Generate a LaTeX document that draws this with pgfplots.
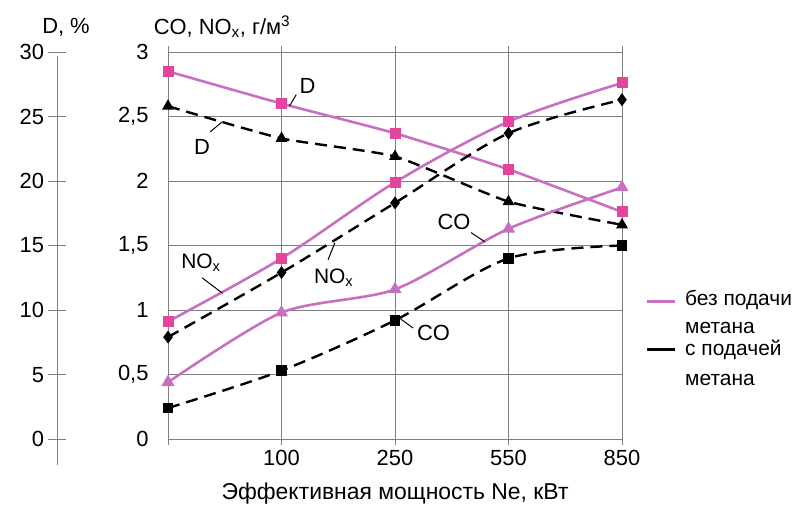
\documentclass[border=0pt]{standalone}
\usepackage{pgfplots}
\pgfplotsset{compat=1.18}
\usepackage{fontspec}
\setmainfont{Liberation Sans}
\definecolor{pinkline}{HTML}{C870C0}
\definecolor{pinkmark}{HTML}{E4449C}
\definecolor{gridc}{HTML}{808080}
\newcommand{\fs}[1]{\fontsize{#1}{#1}\selectfont}
\begin{document}
\begin{tikzpicture}[x=1bp,y=1bp]
\useasboundingbox (0,0) rectangle (796,508);
% left D axis: ticks span the whole narrow box
\begin{axis}[at={(47.5bp,56bp)}, anchor=south west, scale only axis,
  width=19bp, height=409bp, xmin=0, xmax=1, ymin=-1, ymax=30.7,
  axis line style={white}, xtick=\empty,
  ytick={0,5,...,30}, tick align=inside, major tick length=19bp,
  ytick style={gridc, line width=1pt},
  yticklabel style={font=\fs{22}, xshift=0bp},
  /pgf/number format/assume math mode=true]
\addplot[draw=none] coordinates {(0,0)};
\end{axis}
\draw[gridc, line width=1pt] (57,43) -- (57,452);
% main axis
\begin{axis}[at={(168bp,69bp)}, anchor=south west, scale only axis,
  width=454bp, height=387bp, xmin=0, xmax=4, ymin=0, ymax=3,
  xtick={0,1,2,3,4}, xticklabels={,100,250,550,850},
  ytick={0,0.5,...,3},
  grid=major, grid style={gridc, line width=0.8pt},
  axis line style={gridc, line width=0.8pt},
  xtick style={gridc, line width=0.8pt}, ytick style={draw=none},
  tick align=outside, major tick length=6bp,
  /pgf/number format/use comma,
  /pgf/number format/assume math mode=true,
  ticklabel style={font=\fs{22}},
  yticklabel style={xshift=-10bp},
  xticklabel style={yshift=-2bp},
  xlabel={Эффективная мощность Ne, кВт},
  xlabel style={font=\fs{23}, at={(axis description cs:0.5,-0.14)}, anchor=center},
  clip=false]
% D without methane (values in %)
\addplot[pinkline, line width=2.6bp, smooth, tension=0.3, mark=square*,
  mark options={pinkmark, draw=pinkmark, solid}, mark size=4.2bp,
  y filter/.expression={y/10}]
  coordinates {(0,28.5) (1,26.0) (2,23.7) (3,20.9) (4,17.6)};
% D with methane (values in %)
\addplot[black, line width=2.4bp, dash pattern=on 12bp off 7bp, smooth, tension=0.3,
  mark=triangle*, mark options={black, solid}, mark size=4.5bp,
  y filter/.expression={y/10}]
  coordinates {(0,25.8) (1,23.3) (2,21.9) (3,18.4) (4,16.6)};
% NOx without methane
\addplot[pinkline, line width=2.6bp, smooth, tension=0.5, mark=square*,
  mark options={pinkmark, draw=pinkmark, solid}, mark size=4.2bp]
  coordinates {(0,0.91) (1,1.40) (2,1.99) (3,2.46) (4,2.76)};
% NOx with methane
\addplot[black, line width=2.4bp, dash pattern=on 12bp off 7bp, smooth, tension=0.5,
  mark=diamond*, mark options={black, solid}, mark size=4.5bp]
  coordinates {(0,0.79) (1,1.29) (2,1.83) (3,2.37) (4,2.63)};
% CO without methane
\addplot[pinkline, line width=2.6bp, smooth, tension=0.45, mark=triangle*,
  mark options={pinkline, solid}, mark size=5bp]
  coordinates {(0,0.44) (1,0.98) (2,1.16) (3,1.63) (4,1.95)};
% CO with methane
\addplot[black, line width=2.4bp, dash pattern=on 12bp off 7bp, smooth, tension=0.5,
  mark=square*, mark options={black, solid}, mark size=4.2bp]
  coordinates {(0,0.24) (1,0.53) (2,0.92) (3,1.40) (4,1.50)};
% annotations
\node[font=\fs{22}] at (axis cs:1.23,2.74) {D};
\draw[black, line width=1pt] (axis cs:1.07,2.58) -- (axis cs:1.13,2.67);
\node[font=\fs{22}] at (axis cs:0.30,2.265) {D};
\draw[black, line width=1pt] (axis cs:0.37,2.38) -- (axis cs:0.48,2.46);
\node[font=\fs{21}] at (axis cs:0.29,1.37) {NO\textsubscript{x}};
\draw[black, line width=1pt] (axis cs:0.30,1.25) -- (axis cs:0.48,1.13);
\node[font=\fs{21}] at (axis cs:1.46,1.25) {NO\textsubscript{x}};
\draw[black, line width=1pt] (axis cs:1.41,1.39) -- (axis cs:1.47,1.52);
\node[font=\fs{22}] at (axis cs:2.52,1.68) {CO};
\draw[black, line width=1pt] (axis cs:2.67,1.60) -- (axis cs:2.79,1.53);
\node[font=\fs{22}] at (axis cs:2.34,0.82) {CO};
\draw[black, line width=1pt] (axis cs:2.05,0.93) -- (axis cs:2.16,0.86);
% y title
\node[font=\fs{22}] at (axis description cs:0.119,1.065) {CO, NO\textsubscript{x}, г/м\textsuperscript{3}};
\end{axis}
% D title
\node[font=\fs{22}] at (66,481) {D, \%};
% legend
\draw[pinkline, line width=3bp] (647,206) -- (675,206);
\draw[black, line width=3bp] (647,158) -- (675,158);
\node[font=\fs{21}, anchor=west, inner sep=0pt] at (685,208) {без подачи};
\node[font=\fs{21}, anchor=west, inner sep=0pt] at (685,180) {метана};
\node[font=\fs{21}, anchor=west, inner sep=0pt] at (685,158) {с подачей};
\node[font=\fs{21}, anchor=west, inner sep=0pt] at (685,128) {метана};
\end{tikzpicture}
\end{document}
